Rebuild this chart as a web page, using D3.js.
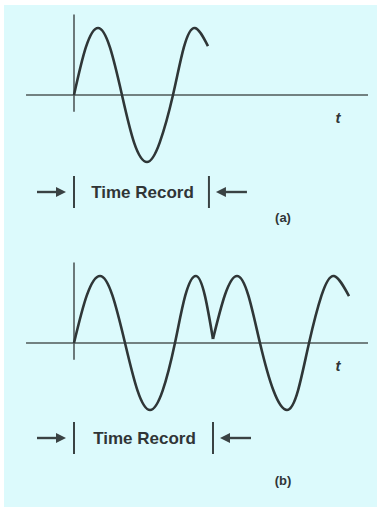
<!DOCTYPE html>
<html>
<head>
<meta charset="utf-8">
<script src="https://cdn.jsdelivr.net/npm/d3@7"></script>
<style>
  html, body { margin: 0; padding: 0; background: #ffffff; }
  svg { display: block; }
  text { font-family: "Liberation Sans", Arial, sans-serif; fill: #303536; }
</style>
</head>
<body>
<svg id="chart" width="377" height="508"></svg>
<script>
// Time in signal periods, amplitude normalised to the peak value.
// (a) one time record of the signal.
const waveATime = [0, 0.12, 0.244, 0.365, 0.487, 0.61, 0.741, 0.87, 1.005, 1.115, 1.228, 1.36];
const waveAValue = [0, 0.71, 1, 0.71, 0, -0.71, -1, -0.71, 0, 0.71, 1, 0.73];

// (b) the time record followed by its repetition (discontinuity at the join).
const waveB1Time = [0, 0.13, 0.264, 0.39, 0.518, 0.645, 0.772, 0.9, 1.025, 1.13, 1.239, 1.33, 1.411];
const waveB1Value = [0, 0.71, 1, 0.71, 0, -0.71, -1, -0.71, 0, 0.71, 1, 0.7, 0.06];
const waveB2Time = [1.411, 1.533, 1.655, 1.77, 1.888, 2.025, 2.162, 2.274, 2.386, 2.513, 2.64, 2.792];
const waveB2Value = [0.06, 0.72, 1, 0.71, 0, -0.71, -1, -0.71, 0, 0.71, 1, 0.70];

// Extent of each time record and the axis ranges.
const recordA = [0, 1.37];
const recordB = [0, 1.411];
const timeAxisRange = [-0.487, 2.985];
const valueAxisRange = [-0.25, 1.2];

const panelLabels = ["(a)", "(b)"];
const recordLabel = "Time Record";
const timeLabel = "t";

const svg = d3.select("#chart");

svg.append("rect")
  .attr("x", 4).attr("y", 5)
  .attr("width", 373).attr("height", 502)
  .attr("fill", "#dcfafc");

const x = d3.scaleLinear().domain([0, 1]).range([74, 172.5]);

const toPoints = (ts, vs) => ts.map((t, i) => [t, vs[i]]);

function drawPanel(axisY, segments, record, label, offsets) {
  const y = d3.scaleLinear().domain([-1, 1]).range([axisY + 67, axisY - 67]);
  const g = svg.append("g");

  // time axis
  g.append("line")
    .attr("x1", x(timeAxisRange[0])).attr("x2", x(timeAxisRange[1]))
    .attr("y1", y(0)).attr("y2", y(0))
    .attr("stroke", "#4f5859").attr("stroke-width", 1.6);

  // value axis
  g.append("line")
    .attr("x1", x(0)).attr("x2", x(0))
    .attr("y1", y(valueAxisRange[1])).attr("y2", y(valueAxisRange[0]))
    .attr("stroke", "#4f5859").attr("stroke-width", 1.6);

  const line = d3.line()
    .x(d => x(d[0]))
    .y(d => y(d[1]))
    .curve(d3.curveNatural);

  segments.forEach(seg => {
    g.append("path")
      .attr("d", line(seg))
      .attr("fill", "none")
      .attr("stroke", "#2f3637")
      .attr("stroke-width", 2.6)
      .attr("stroke-linejoin", "round");
  });

  g.append("text")
    .attr("x", x(timeAxisRange[1]) - 30)
    .attr("y", y(0) + 28)
    .attr("font-size", 15)
    .attr("font-weight", "bold")
    .attr("font-style", "italic")
    .attr("text-anchor", "middle")
    .text(timeLabel);

  // time record markers
  const markY = axisY + offsets.mark;
  const barTop = markY - 16, barBottom = markY + 16;
  [record[0], record[1]].forEach(t => {
    g.append("line")
      .attr("x1", x(t)).attr("x2", x(t))
      .attr("y1", barTop).attr("y2", barBottom)
      .attr("stroke", "#3a4243").attr("stroke-width", 2);
  });

  const xl = x(record[0]), xr = x(record[1]);
  // left arrow pointing right
  g.append("line")
    .attr("x1", xl - 37).attr("x2", xl - 16)
    .attr("y1", markY).attr("y2", markY)
    .attr("stroke", "#3a4243").attr("stroke-width", 2.4);
  g.append("path")
    .attr("d", `M${xl - 8},${markY} L${xl - 18},${markY - 5} L${xl - 18},${markY + 5} Z`)
    .attr("fill", "#3a4243");
  // right arrow pointing left
  g.append("line")
    .attr("x1", xr + 16).attr("x2", xr + 38)
    .attr("y1", markY).attr("y2", markY)
    .attr("stroke", "#3a4243").attr("stroke-width", 2.4);
  g.append("path")
    .attr("d", `M${xr + 7},${markY} L${xr + 17},${markY - 5} L${xr + 17},${markY + 5} Z`)
    .attr("fill", "#3a4243");

  g.append("text")
    .attr("x", (xl + xr) / 2 + 1)
    .attr("y", markY + 6)
    .attr("font-size", 17)
    .attr("font-weight", "bold")
    .attr("text-anchor", "middle")
    .text(recordLabel);

  g.append("text")
    .attr("x", 283)
    .attr("y", axisY + offsets.label)
    .attr("font-size", 13)
    .attr("font-weight", "bold")
    .attr("text-anchor", "middle")
    .text(label);
}

drawPanel(95,
  [toPoints(waveATime, waveAValue)],
  recordA, panelLabels[0], { mark: 97, label: 127 });

drawPanel(343,
  [toPoints(waveB1Time, waveB1Value), toPoints(waveB2Time, waveB2Value)],
  recordB, panelLabels[1], { mark: 95, label: 142 });
</script>
</body>
</html>
